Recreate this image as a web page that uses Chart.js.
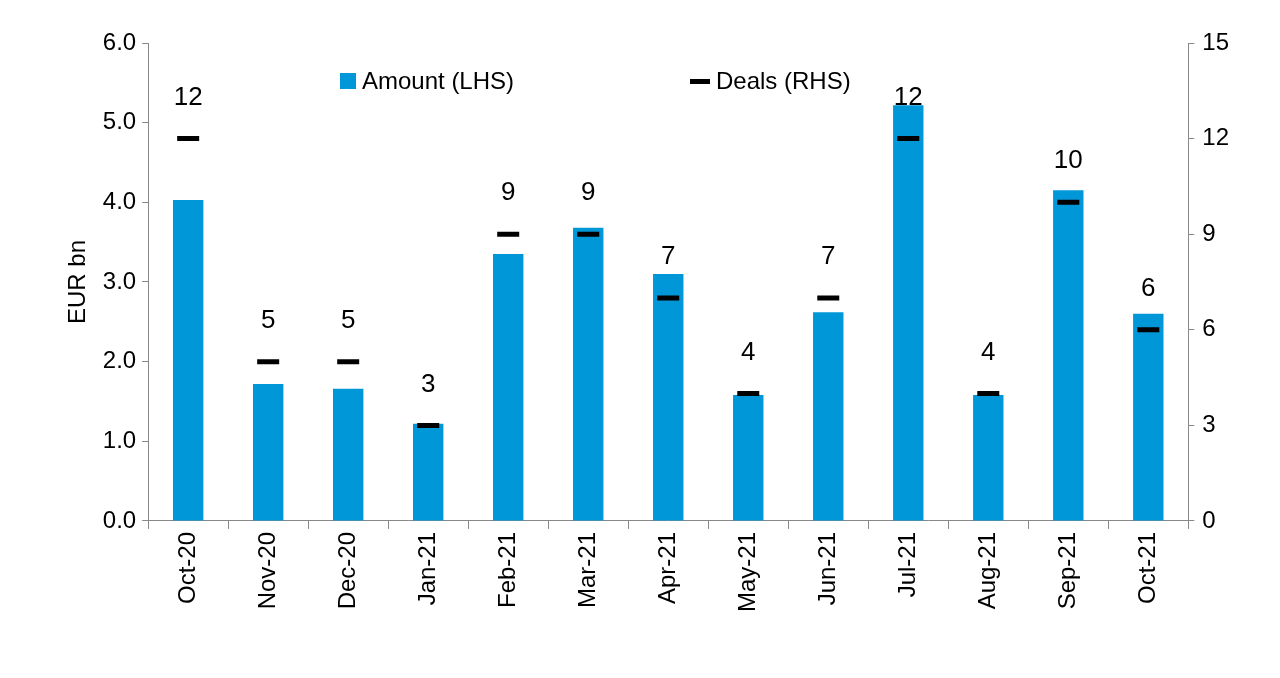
<!DOCTYPE html>
<html><head><meta charset="utf-8">
<script src="https://cdn.jsdelivr.net/npm/chart.js@4"></script>
<style>body{margin:0;background:#fff}#w{width:1280px;height:678px}</style>
</head><body><div id="w"><canvas id="c"></canvas></div>
<script>
const categories=["Oct-20","Nov-20","Dec-20","Jan-21","Feb-21","Mar-21","Apr-21","May-21","Jun-21","Jul-21","Aug-21","Sep-21","Oct-21"];
const amount=[4.03,1.72,1.66,1.22,3.35,3.68,3.10,1.58,2.62,5.22,1.58,4.15,2.60];
const deals=[12,5,5,3,9,9,7,4,7,12,4,10,6];
const F="'Liberation Sans', Arial, sans-serif";
const labelPlugin={id:'lp',afterDatasetsDraw(ch){
  const ctx=ch.ctx,m=ch.getDatasetMeta(1);
  ctx.save();ctx.font="26px "+F;ctx.fillStyle="#000";ctx.textAlign="center";ctx.textBaseline="middle";
  m.data.forEach((p,i)=>ctx.fillText(deals[i],p.x,p.y-41));
  ctx.fillStyle="#0097d8";ctx.fillRect(340,73,16,16);
  ctx.fillStyle="#000";ctx.textAlign="left";ctx.font="24px "+F;
  ctx.fillText("Amount (LHS)",362,82);
  ctx.fillRect(690,79,20,5);
  ctx.fillText("Deals (RHS)",716,82);
  ctx.restore();
}};
new Chart(document.getElementById('c'),{
 data:{labels:categories,datasets:[
  {type:'bar',label:'Amount (LHS)',data:amount,backgroundColor:'#0097d8',yAxisID:'y',barPercentage:0.38,categoryPercentage:1,order:2},
  {type:'line',label:'Deals (RHS)',data:deals,yAxisID:'y1',showLine:false,pointStyle:'line',pointRadius:11,pointBorderWidth:5,borderColor:'#000',backgroundColor:'#000',order:1}
 ]},
 options:{responsive:true,maintainAspectRatio:false,animation:false,
  layout:{padding:{top:43,right:43,left:60,bottom:63}},
  plugins:{legend:{display:false},tooltip:{enabled:false}},
  scales:{
   x:{grid:{display:true,drawOnChartArea:false,color:'#888',tickLength:8},border:{color:'#888'},
      ticks:{color:'#000',font:{family:F,size:24},maxRotation:90,minRotation:90}},
   y:{min:0,max:6,ticks:{stepSize:1,color:'#000',font:{family:F,size:24},callback:v=>v.toFixed(1),padding:6},
      grid:{drawOnChartArea:false,color:'#888',tickLength:6},border:{color:'#888'},
      title:{display:true,text:'EUR bn',color:'#000',font:{family:F,size:24}}},
   y1:{position:'right',min:0,max:15,ticks:{stepSize:3,color:'#000',font:{family:F,size:24},padding:8},
      grid:{drawOnChartArea:false,color:'#888',tickLength:6},border:{color:'#888'}}
  }},
 plugins:[labelPlugin]
});
</script></body></html>
